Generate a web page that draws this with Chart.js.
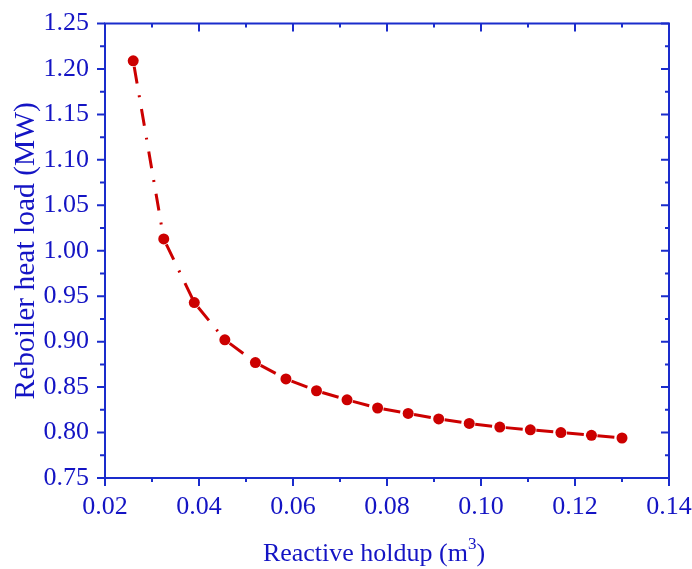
<!DOCTYPE html>
<html>
<head>
<meta charset="utf-8">
<script src="https://cdn.jsdelivr.net/npm/chart.js@4"></script>
<style>
  html, body { margin: 0; padding: 0; background: #fff; }
</style>
</head>
<body>
<canvas id="holdupChart" width="692" height="569"></canvas>
<script>
var holdup = [0.026, 0.0325, 0.039, 0.0455, 0.052, 0.0585, 0.065, 0.0715, 0.078,
              0.0845, 0.091, 0.0975, 0.104, 0.1105, 0.117, 0.1235, 0.13];
var heatLoad = [1.209, 1.013, 0.943, 0.902, 0.877, 0.859, 0.846, 0.836, 0.827,
                0.821, 0.815, 0.810, 0.806, 0.803, 0.800, 0.797, 0.794];
var xTicks = [0.02, 0.04, 0.06, 0.08, 0.10, 0.12, 0.14];
var yTicks = [0.75, 0.80, 0.85, 0.90, 0.95, 1.00, 1.05, 1.10, 1.15, 1.20, 1.25];

var axisColor = '#1a2ccc';
var textColor = '#1414c4';
var lineColor = '#cc0000';
var fontFamily = '"Liberation Serif", "Times New Roman", serif';

function tickMarks(chart) {
	var ctx = chart.ctx;
	var a = chart.chartArea;
	var xs = chart.scales.x, ys = chart.scales.y;
	ctx.save();
	ctx.strokeStyle = axisColor;
	ctx.lineWidth = 2;
	ctx.strokeRect(a.left, a.top, a.right - a.left, a.bottom - a.top);
	ctx.beginPath();
	for (var i = 0; i < xTicks.length; i++) {
		var px = xs.getPixelForValue(xTicks[i]);
		ctx.moveTo(px, a.bottom); ctx.lineTo(px, a.bottom + 8);
		ctx.moveTo(px, a.top); ctx.lineTo(px, a.top + 8);
		if (i < xTicks.length - 1) {
			var mx = xs.getPixelForValue((xTicks[i] + xTicks[i + 1]) / 2);
			ctx.moveTo(mx, a.bottom); ctx.lineTo(mx, a.bottom + 4);
			ctx.moveTo(mx, a.top); ctx.lineTo(mx, a.top + 4);
		}
	}
	for (var j = 0; j < yTicks.length; j++) {
		var py = ys.getPixelForValue(yTicks[j]);
		ctx.moveTo(a.left - 8, py); ctx.lineTo(a.left, py);
		ctx.moveTo(a.right - 8, py); ctx.lineTo(a.right, py);
		if (j < yTicks.length - 1) {
			var my = ys.getPixelForValue((yTicks[j] + yTicks[j + 1]) / 2);
			ctx.moveTo(a.left - 5, my); ctx.lineTo(a.left, my);
			ctx.moveTo(a.right - 4, my); ctx.lineTo(a.right, my);
		}
	}
	ctx.stroke();

	// axis titles
	ctx.fillStyle = textColor;
	ctx.textBaseline = 'alphabetic';
	var xt = 'Reactive holdup (m';
	ctx.font = '26px ' + fontFamily;
	var w1 = ctx.measureText(xt).width;
	ctx.font = '17px ' + fontFamily;
	var w2 = ctx.measureText('3').width;
	ctx.font = '26px ' + fontFamily;
	var w3 = ctx.measureText(')').width;
	var x0 = 374 - (w1 + w2 + w3) / 2;
	ctx.textAlign = 'left';
	ctx.fillText(xt, x0, 561);
	ctx.font = '17px ' + fontFamily;
	ctx.fillText('3', x0 + w1, 549);
	ctx.font = '26px ' + fontFamily;
	ctx.fillText(')', x0 + w1 + w2, 561);

	ctx.font = '29.5px ' + fontFamily;
	ctx.translate(34, (a.top + a.bottom) / 2);
	ctx.rotate(-Math.PI / 2);
	ctx.textAlign = 'center';
	ctx.fillText('Reboiler heat load (MW)', 0, 0);
	ctx.restore();
}

window.onload = () =>
{
	var ctx = document.getElementById('holdupChart').getContext('2d');
	var points = holdup.map(function(h, i) { return { x: h, y: heatLoad[i] }; });
	var chartConfig =
	{
		type: 'line',
		data:
		{
			datasets: [{
				label: 'Reboiler heat load',
				data: points,
				borderColor: lineColor,
				borderWidth: 3,
				borderDash: [17, 12, 2, 12],
				// restart the dash-dot pattern at every point, like the original plot
				segment: {
					borderDashOffset: function(c) { return c.p0DataIndex % 2 ? -6 : -6.001; }
				},
				pointRadius: 5.5,
				pointBackgroundColor: lineColor,
				pointBorderWidth: 0,
				tension: 0,
				clip: false
			}]
		},
		options:
		{
			responsive: false,
			animation: false,
			layout: { padding: { top: 23.5, right: 23, left: 0, bottom: 0 } },
			plugins: { legend: { display: false }, tooltip: { enabled: false } },
			scales:
			{
				x: {
					type: 'linear',
					min: 0.02, max: 0.14,
					afterBuildTicks: function(scale) { scale.ticks = xTicks.map(function(v) { return { value: v }; }); },
					afterFit: function(scale) { scale.height = 91; scale.paddingLeft = 0; scale.paddingRight = 0; },
					grid: { display: false, drawTicks: false },
					border: { display: false },
					ticks: {
						color: textColor,
						padding: 14,
						maxRotation: 0,
						font: { family: fontFamily, size: 26 },
						callback: function(v) { return v.toFixed(2); }
					}
				},
				y: {
					type: 'linear',
					min: 0.75, max: 1.25,
					afterBuildTicks: function(scale) { scale.ticks = yTicks.map(function(v) { return { value: v }; }); },
					afterFit: function(scale) { scale.width = 105; scale.paddingTop = 0; scale.paddingBottom = 0; },
					grid: { display: false, drawTicks: false },
					border: { display: false },
					ticks: {
						color: textColor,
						padding: 16,
						font: { family: fontFamily, size: 26 },
						callback: function(v) { return v.toFixed(2); }
					}
				}
			}
		},
		plugins: [{ id: 'frame', afterDraw: tickMarks }]
	};
	var chart = new Chart(ctx, chartConfig);
}
</script>
</body>
</html>
